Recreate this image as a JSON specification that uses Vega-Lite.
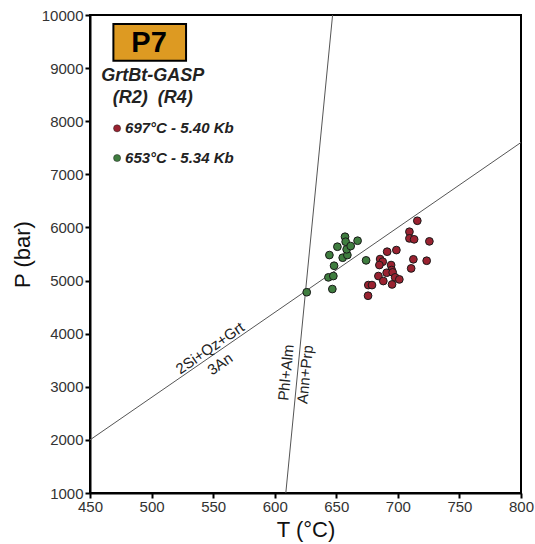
{
  "$schema": "https://vega.github.io/schema/vega-lite/v6.json",
  "width": 431,
  "height": 478,
  "autosize": "none",
  "padding": {"left": 90, "top": 15, "right": 14, "bottom": 51},
  "background": "white",
  "config": {
    "view": {"stroke": "black", "strokeWidth": 2},
    "font": "Liberation Sans",
    "axis": {
      "grid": false,
      "domainColor": "black",
      "domainWidth": 2,
      "tickColor": "black",
      "tickWidth": 2,
      "tickSize": 5,
      "labelFont": "Liberation Sans",
      "labelFontSize": 15,
      "labelColor": "#333",
      "labelFlush": false,
      "titleFont": "Liberation Sans",
      "titleFontSize": 22,
      "titleFontWeight": "normal",
      "titleColor": "#111"
    }
  },
  "datasets": {
    "pts": [
      {"T": 626.0, "P": 4780, "g": "green"},
      {"T": 646.8, "P": 4840, "g": "green"},
      {"T": 643.6, "P": 5060, "g": "green"},
      {"T": 647.6, "P": 5085, "g": "green"},
      {"T": 648.2, "P": 5279, "g": "green"},
      {"T": 644.4, "P": 5480, "g": "green"},
      {"T": 650.9, "P": 5637, "g": "green"},
      {"T": 655.2, "P": 5430, "g": "green"},
      {"T": 659.0, "P": 5480, "g": "green"},
      {"T": 657.1, "P": 5825, "g": "green"},
      {"T": 657.6, "P": 5731, "g": "green"},
      {"T": 658.4, "P": 5588, "g": "green"},
      {"T": 661.7, "P": 5650, "g": "green"},
      {"T": 667.3, "P": 5750, "g": "green"},
      {"T": 674.2, "P": 5380, "g": "green"},
      {"T": 715.8, "P": 6126, "g": "red"},
      {"T": 709.4, "P": 5919, "g": "red"},
      {"T": 709.4, "P": 5794, "g": "red"},
      {"T": 713.2, "P": 5776, "g": "red"},
      {"T": 725.6, "P": 5738, "g": "red"},
      {"T": 691.3, "P": 5543, "g": "red"},
      {"T": 698.8, "P": 5574, "g": "red"},
      {"T": 685.6, "P": 5405, "g": "red"},
      {"T": 687.7, "P": 5355, "g": "red"},
      {"T": 685.0, "P": 5292, "g": "red"},
      {"T": 694.5, "P": 5292, "g": "red"},
      {"T": 712.6, "P": 5400, "g": "red"},
      {"T": 723.4, "P": 5373, "g": "red"},
      {"T": 710.8, "P": 5229, "g": "red"},
      {"T": 695.0, "P": 5198, "g": "red"},
      {"T": 690.9, "P": 5147, "g": "red"},
      {"T": 695.8, "P": 5154, "g": "red"},
      {"T": 684.2, "P": 5085, "g": "red"},
      {"T": 688.2, "P": 4991, "g": "red"},
      {"T": 697.8, "P": 5060, "g": "red"},
      {"T": 701.2, "P": 5022, "g": "red"},
      {"T": 695.3, "P": 4927, "g": "red"},
      {"T": 676.0, "P": 4915, "g": "red"},
      {"T": 679.0, "P": 4915, "g": "red"},
      {"T": 675.8, "P": 4714, "g": "red"}
    ]
  },
  "layer": [
    {
      "data": {"values": [
        {"T": 450, "P": 2000, "line": "gasp"},
        {"T": 800, "P": 7600, "line": "gasp"},
        {"T": 609, "P": 1000, "line": "gb"},
        {"T": 647, "P": 10000, "line": "gb"}
      ]},
      "mark": {"type": "line", "color": "#555", "strokeWidth": 1, "clip": true},
      "encoding": {
        "x": {"field": "T", "type": "quantitative", "scale": {"domain": [450, 800], "nice": false, "zero": false}, "axis": {"title": "T (°C)", "values": [450, 500, 550, 600, 650, 700, 750, 800], "format": "d", "titlePadding": 5, "labelPadding": 1}},
        "y": {"field": "P", "type": "quantitative", "scale": {"domain": [1000, 10000], "nice": false, "zero": false}, "axis": {"title": "P (bar)", "values": [1000, 2000, 3000, 4000, 5000, 6000, 7000, 8000, 9000, 10000], "format": "d", "titlePadding": 7, "labelPadding": 2}},
        "detail": {"field": "line"}
      }
    },
    {
      "data": {"values": [{"x1": 469, "x2": 528, "y1": 9830, "y2": 9140}]},
      "mark": {"type": "rect", "fill": "#DD9A22", "stroke": "black", "strokeWidth": 2},
      "encoding": {
        "x": {"field": "x1", "type": "quantitative"},
        "x2": {"field": "x2"},
        "y": {"field": "y1", "type": "quantitative"},
        "y2": {"field": "y2"}
      }
    },
    {
      "data": {"values": [{"T": 498, "P": 9480, "label": "P7"}]},
      "mark": {"type": "text", "fontSize": 29, "fontWeight": "bold", "font": "Liberation Sans", "color": "black", "align": "center", "baseline": "middle"},
      "encoding": {
        "x": {"field": "T", "type": "quantitative"},
        "y": {"field": "P", "type": "quantitative"},
        "text": {"field": "label"}
      }
    },
    {
      "data": {"values": [
        {"T": 501, "P": 8850, "label": "GrtBt-GASP"},
        {"T": 501, "P": 8437, "label": "(R2)\u00a0\u00a0(R4)"}
      ]},
      "mark": {"type": "text", "fontSize": 18, "fontWeight": "bold", "fontStyle": "italic", "font": "Liberation Sans", "color": "#222", "align": "center", "baseline": "middle"},
      "encoding": {
        "x": {"field": "T", "type": "quantitative"},
        "y": {"field": "P", "type": "quantitative"},
        "text": {"field": "label"}
      }
    },
    {
      "data": {"values": [
        {"T": 478.5, "P": 7866, "label": "697°C - 5.40 Kb"},
        {"T": 478.5, "P": 7307, "label": "653°C - 5.34 Kb"}
      ]},
      "mark": {"type": "text", "fontSize": 15, "fontWeight": "bold", "fontStyle": "italic", "font": "Liberation Sans", "color": "#222", "align": "left", "baseline": "middle"},
      "encoding": {
        "x": {"field": "T", "type": "quantitative"},
        "y": {"field": "P", "type": "quantitative"},
        "text": {"field": "label"}
      }
    },
    {
      "data": {"values": [
        {"T": 472, "P": 7866, "g": "red"},
        {"T": 472, "P": 7307, "g": "green"}
      ]},
      "mark": {"type": "circle", "size": 50, "opacity": 1, "stroke": "#222", "strokeWidth": 0.5},
      "encoding": {
        "x": {"field": "T", "type": "quantitative"},
        "y": {"field": "P", "type": "quantitative"},
        "color": {"field": "g", "type": "nominal", "scale": {"domain": ["red", "green"], "range": ["#9A2230", "#3F7D3F"]}, "legend": null}
      }
    },
    {
      "data": {"values": [
        {"T": 547.5, "P": 3729, "label": "2Si+Qz+Grt"},
        {"T": 555.6, "P": 3427, "label": "3An"}
      ]},
      "mark": {"type": "text", "fontSize": 15, "font": "Liberation Sans", "color": "#222", "align": "center", "baseline": "middle", "angle": 325.4},
      "encoding": {
        "x": {"field": "T", "type": "quantitative"},
        "y": {"field": "P", "type": "quantitative"},
        "text": {"field": "label"}
      }
    },
    {
      "data": {"values": [
        {"T": 609.2, "P": 3267, "label": "Phl+Alm"},
        {"T": 624.7, "P": 3230, "label": "Ann+Prp"}
      ]},
      "mark": {"type": "text", "fontSize": 15, "font": "Liberation Sans", "color": "#222", "align": "center", "baseline": "middle", "angle": 275.6},
      "encoding": {
        "x": {"field": "T", "type": "quantitative"},
        "y": {"field": "P", "type": "quantitative"},
        "text": {"field": "label"}
      }
    },
    {
      "data": {"name": "pts"},
      "mark": {"type": "circle", "size": 60, "opacity": 1, "stroke": "#1a1a1a", "strokeWidth": 1},
      "encoding": {
        "x": {"field": "T", "type": "quantitative"},
        "y": {"field": "P", "type": "quantitative"},
        "color": {"field": "g", "type": "nominal", "scale": {"domain": ["red", "green"], "range": ["#9A2230", "#3F7D3F"]}, "legend": null}
      }
    }
  ]
}
